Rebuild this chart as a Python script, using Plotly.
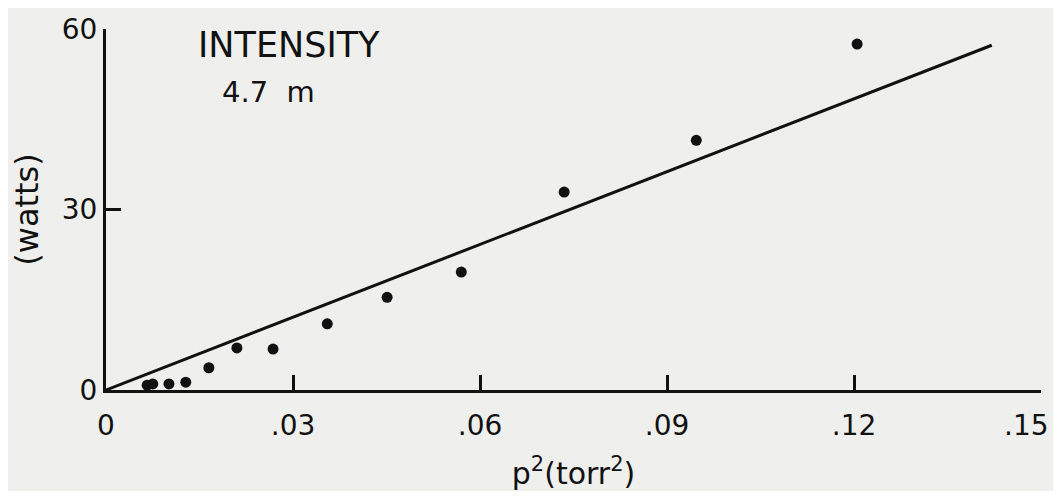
import plotly.graph_objects as go

# measured points: p^2 (torr^2) vs intensity (watts)
p2_vals = [0.0066, 0.0075, 0.0101, 0.0128, 0.0165, 0.0210, 0.0268,
           0.0355, 0.0451, 0.0570, 0.0735, 0.0947, 0.1205]
watts = [0.8, 1.0, 1.0, 1.3, 3.7, 7.0, 6.8,
         11.0, 15.4, 19.6, 32.9, 41.5, 57.5]

# straight reference line
fit_x = [0.0, 0.1421]
fit_y = [0.0, 57.3]

x_ticks = [0, 0.03, 0.06, 0.09, 0.12, 0.15]
x_tick_text = ["0", ".03", ".06", ".09", ".12", ".15"]
y_ticks = [0, 30, 60]
y_tick_text = ["0", "30", "60"]

bg = "#efefed"
ink = "#111111"
font_family = "DejaVu Sans, Open Sans, sans-serif"

fig = go.Figure()

fig.add_trace(go.Scatter(
    x=fit_x, y=fit_y, mode="lines",
    line=dict(color=ink, width=3), showlegend=False, hoverinfo="skip"))

fig.add_trace(go.Scatter(
    x=p2_vals, y=watts, mode="markers",
    marker=dict(color=ink, size=11), showlegend=False))

fig.add_annotation(x=0.0, y=1.0, xref="paper", yref="paper",
                   text="INTENSITY", showarrow=False,
                   xanchor="left", yanchor="top", xshift=90, yshift=6,
                   font=dict(size=35, color=ink, family=font_family))
fig.add_annotation(x=0.0, y=1.0, xref="paper", yref="paper",
                   text="4.7  m", showarrow=False,
                   xanchor="left", yanchor="top", xshift=114, yshift=-44,
                   font=dict(size=29, color=ink, family=font_family))

# last x label sits at the right edge: right-anchored so it is not clipped
fig.add_annotation(x=x_ticks[-1], y=0, xref="x", yref="paper",
                   text=x_tick_text[-1], showarrow=False,
                   xanchor="right", yanchor="middle", xshift=10, yshift=-35,
                   font=dict(size=28, color=ink, family=font_family))

# page body has an 8px margin, so the figure is a bit smaller than the window
fig.update_layout(
    width=1045, height=483,
    margin=dict(l=98, r=12, t=21, b=101, autoexpand=False),
    paper_bgcolor=bg, plot_bgcolor=bg,
    font=dict(family=font_family, color=ink, size=28),
    xaxis=dict(
        range=[0, 0.15], tickvals=x_ticks,
        ticktext=x_tick_text[:-1] + [""],
        showgrid=False, zeroline=False, showline=True, automargin=False,
        linecolor=ink, linewidth=3,
        ticks="inside", ticklen=15, tickwidth=2.5, tickcolor=ink,
        tickfont=dict(size=28),
        ticklabelstandoff=8,
        title=dict(text="p<sup>2</sup>(torr<sup>2</sup>)",
                   font=dict(size=30), standoff=34),
    ),
    yaxis=dict(
        range=[0, 60], tickvals=y_ticks, ticktext=y_tick_text,
        showgrid=False, zeroline=False, showline=True, automargin=False,
        linecolor=ink, linewidth=3,
        ticks="inside", ticklen=15, tickwidth=2.5, tickcolor=ink,
        tickfont=dict(size=28),
        title=dict(text="(watts)", font=dict(size=32), standoff=22),
    ),
)

fig.write_html("out.html")
